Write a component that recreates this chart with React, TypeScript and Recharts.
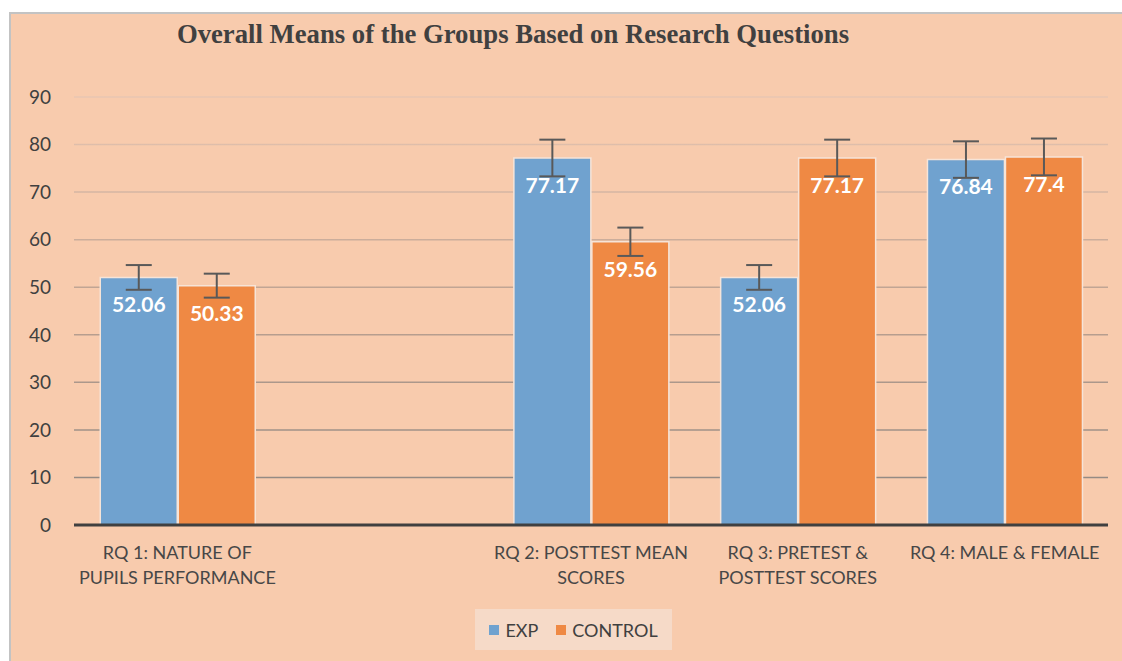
import React from "react";
import { BarChart, Bar, XAxis, YAxis, CartesianGrid, ErrorBar, LabelList, Legend } from "recharts";

const categories = [
  "RQ 1: NATURE OF|PUPILS PERFORMANCE",
  "",
  "RQ 2: POSTTEST MEAN|SCORES",
  "RQ 3: PRETEST &|POSTTEST SCORES",
  "RQ 4: MALE & FEMALE",
];
const expValues = [52.06, null, 77.17, 52.06, 76.84];
const controlValues = [50.33, null, 59.56, 77.17, 77.4];
const expErrors = [2.6, null, 3.86, 2.6, 3.84];
const controlErrors = [2.52, null, 2.98, 3.86, 3.87];
const yTicks = [0, 10, 20, 30, 40, 50, 60, 70, 80, 90];
const seriesNames = ["EXP", "CONTROL"];

const data = categories.map((c, i) => ({
  name: c,
  exp: expValues[i],
  control: controlValues[i],
  expErr: expErrors[i],
  controlErr: controlErrors[i],
}));

const EXP_COLOR = "#70a2cf";
const CONTROL_COLOR = "#ef8944";
const FONT = "Lato, 'Open Sans', sans-serif";

const XTick = (props: any) => {
  const { x, y, payload } = props;
  const lines = String(payload.value).split("|").filter((l) => l.length > 0);
  return (
    <text x={x} y={y} textAnchor="middle" fill="#474747" fontSize={18} fontFamily={FONT}>
      {lines.map((l, i) => (
        <tspan key={i} x={x} dy={i === 0 ? 34 : 25}>
          {l}
        </tspan>
      ))}
    </text>
  );
};

const LegendContent = () => (
  <div style={{ position: "relative", height: 56, width: "100%" }}>
    <div
      style={{
        position: "absolute",
        left: 475,
        top: 4,
        width: 197,
        height: 41,
        background: "#f6dac8",
        display: "flex",
        alignItems: "center",
        justifyContent: "center",
        fontFamily: FONT,
        fontSize: 18,
        color: "#404040",
      }}
    >
      {seriesNames.map((n, i) => (
        <div key={n} style={{ display: "flex", alignItems: "center", marginLeft: i === 0 ? 0 : 18 }}>
          <div style={{ width: 10, height: 10, background: i === 0 ? EXP_COLOR : CONTROL_COLOR, marginRight: 6 }} />
          <span>{n}</span>
        </div>
      ))}
    </div>
  </div>
);

export default function App() {
  return (
    <div style={{ position: "absolute", left: 0, top: 0, width: 1122, height: 661, overflow: "hidden", background: "#ffffff" }}>
      <div
        style={{
          position: "absolute",
          left: 9,
          top: 12,
          width: 1130,
          height: 670,
          background: "#f8cbad",
          borderLeft: "2px solid #c3c3c3",
          borderTop: "2px solid #c3c3c3",
        }}
      />
      <div
        style={{
          position: "absolute",
          left: 0,
          top: 21,
          width: 1026,
          textAlign: "center",
          fontFamily: "'Liberation Serif', 'Times New Roman', serif",
          fontWeight: "bold",
          fontSize: 26.7,
          lineHeight: "26px",
          color: "#404040",
        }}
      >
        Overall Means of the Groups Based on Research Questions
      </div>
      <div style={{ position: "absolute", left: 0, top: 0 }}>
        <BarChart
          width={1122}
          height={661}
          data={data}
          margin={{ top: 97, right: 14, left: 0, bottom: 0 }}
          barCategoryGap="12.7%"
          barGap={1}
        >
          <defs>
            <linearGradient id="gridGrad" gradientUnits="userSpaceOnUse" x1="0" y1="97" x2="0" y2="525">
              <stop offset="0%" stopColor="#e8c6b2" />
              <stop offset="50%" stopColor="#bca190" />
              <stop offset="100%" stopColor="#8a8581" />
            </linearGradient>
          </defs>
          <CartesianGrid vertical={false} stroke="url(#gridGrad)" strokeWidth={1.5} />
          <XAxis
            dataKey="name"
            height={80}
            tick={<XTick />}
            tickLine={false}
            tickSize={0}
            tickMargin={0}
            axisLine={{ stroke: "#404040", strokeWidth: 3 }}
            interval={0}
          />
          <YAxis
            width={74}
            domain={[0, 90]}
            ticks={yTicks}
            axisLine={false}
            tickLine={false}
            tickSize={0}
            tickMargin={23}
            tick={{ fill: "#404040", fontSize: 19, fontFamily: FONT }}
          />
          <Legend verticalAlign="bottom" height={56} content={<LegendContent />} />
          <Bar dataKey="exp" name="EXP" fill={EXP_COLOR} stroke="#f6e4d8" strokeWidth={1.5} isAnimationActive={false}>
            <ErrorBar dataKey="expErr" width={13} strokeWidth={2} stroke="#595959" />
            <LabelList
              dataKey="exp"
              position="insideTop"
              offset={20}
              fill="#ffffff"
              fontSize={21}
              fontWeight="bold"
              fontFamily={FONT}
            />
          </Bar>
          <Bar dataKey="control" name="CONTROL" fill={CONTROL_COLOR} stroke="#f6e4d8" strokeWidth={1.5} isAnimationActive={false}>
            <ErrorBar dataKey="controlErr" width={13} strokeWidth={2} stroke="#595959" />
            <LabelList
              dataKey="control"
              position="insideTop"
              offset={20}
              fill="#ffffff"
              fontSize={21}
              fontWeight="bold"
              fontFamily={FONT}
            />
          </Bar>
        </BarChart>
      </div>
    </div>
  );
}
